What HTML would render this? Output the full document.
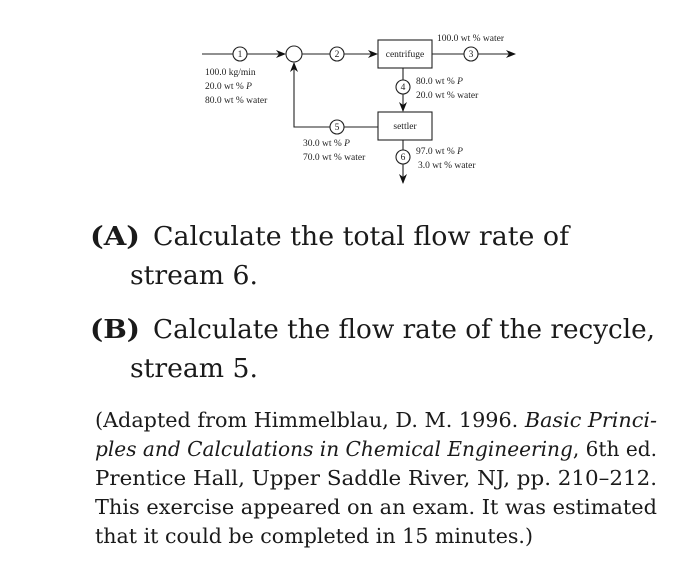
<!DOCTYPE html>
<html><head><meta charset="utf-8"><style>
html,body{margin:0;padding:0;background:#fff;}
svg{display:block;}
.s{font-family:"Liberation Serif",serif;font-size:9.5px;fill:#222;}
.n{font-family:"Liberation Serif",serif;font-size:9.5px;fill:#222;text-anchor:middle;}
.b{font-family:"DejaVu Serif",serif;font-size:26px;fill:#1a1a1a;}
.p{font-family:"DejaVu Serif",serif;font-size:20.5px;fill:#1a1a1a;}
</style></head><body>
<svg width="698" height="565" viewBox="0 0 698 565" xmlns="http://www.w3.org/2000/svg">
<defs><marker id="a" markerWidth="10" markerHeight="8" refX="9" refY="4" orient="auto" markerUnits="userSpaceOnUse"><path d="M0,0 L10,4 L0,8 L3,4 Z" fill="#111"/></marker></defs>
<g stroke="#222" stroke-width="1.1" fill="none">
<line x1="202" y1="54" x2="285" y2="54" marker-end="url(#a)"/>
<line x1="302" y1="54" x2="377" y2="54" marker-end="url(#a)"/>
<line x1="432" y1="54" x2="515" y2="54" marker-end="url(#a)"/>
<line x1="403" y1="68" x2="403" y2="111" marker-end="url(#a)"/>
<line x1="403" y1="140" x2="403" y2="183" marker-end="url(#a)"/>
<polyline points="378,127 294,127 294,63" marker-end="url(#a)"/>
<rect x="378" y="40" width="54" height="28" fill="#fff"/>
<rect x="378" y="112" width="54" height="28" fill="#fff"/>
<circle cx="294" cy="54" r="8" fill="#fff"/>
<circle cx="240" cy="54" r="7" fill="#fff"/>
<circle cx="337" cy="54" r="7" fill="#fff"/>
<circle cx="471" cy="54" r="7" fill="#fff"/>
<circle cx="403" cy="87" r="7" fill="#fff"/>
<circle cx="337" cy="127" r="7" fill="#fff"/>
<circle cx="403" cy="157" r="7" fill="#fff"/>
</g>
<text class="n" x="240" y="57">1</text>
<text class="n" x="337" y="57">2</text>
<text class="n" x="471" y="57">3</text>
<text class="n" x="403" y="90">4</text>
<text class="n" x="337" y="130">5</text>
<text class="n" x="403" y="160">6</text>
<text class="n" x="405" y="57">centrifuge</text>
<text class="n" x="405" y="129">settler</text>
<text class="s" x="437" y="41">100.0 wt % water</text>
<text class="s" x="205" y="75">100.0 kg/min</text>
<text class="s" x="205" y="89">20.0 wt % <tspan font-style="italic">P</tspan></text>
<text class="s" x="205" y="103">80.0 wt % water</text>
<text class="s" x="416" y="84">80.0 wt % <tspan font-style="italic">P</tspan></text>
<text class="s" x="416" y="98">20.0 wt % water</text>
<text class="s" x="303" y="146">30.0 wt % <tspan font-style="italic">P</tspan></text>
<text class="s" x="303" y="160">70.0 wt % water</text>
<text class="s" x="416" y="154">97.0 wt % <tspan font-style="italic">P</tspan></text>
<text class="s" x="418" y="168">3.0 wt % water</text>

<text class="b" x="90" y="245" font-weight="bold" textLength="50" lengthAdjust="spacingAndGlyphs">(A)</text>
<text class="b" x="153" y="245" textLength="416" lengthAdjust="spacingAndGlyphs">Calculate the total flow rate of</text>
<text class="b" x="130" y="284" textLength="128" lengthAdjust="spacingAndGlyphs">stream 6.</text>
<text class="b" x="90" y="338" font-weight="bold" textLength="50" lengthAdjust="spacingAndGlyphs">(B)</text>
<text class="b" x="153" y="338" textLength="502" lengthAdjust="spacingAndGlyphs">Calculate the flow rate of the recycle,</text>
<text class="b" x="130" y="377" textLength="128" lengthAdjust="spacingAndGlyphs">stream 5.</text>

<text class="p" x="95" y="427" textLength="562" lengthAdjust="spacingAndGlyphs">(Adapted from Himmelblau, D. M. 1996. <tspan font-style="italic">Basic Princi-</tspan></text>
<text class="p" x="95" y="456" textLength="562" lengthAdjust="spacingAndGlyphs"><tspan font-style="italic">ples and Calculations in Chemical Engineering</tspan>, 6th ed.</text>
<text class="p" x="95" y="485" textLength="562" lengthAdjust="spacingAndGlyphs">Prentice Hall, Upper Saddle River, NJ, pp. 210–212.</text>
<text class="p" x="95" y="514" textLength="562" lengthAdjust="spacingAndGlyphs">This exercise appeared on an exam. It was estimated</text>
<text class="p" x="95" y="543" textLength="438" lengthAdjust="spacingAndGlyphs">that it could be completed in 15 minutes.)</text>
</svg>
</body></html>
